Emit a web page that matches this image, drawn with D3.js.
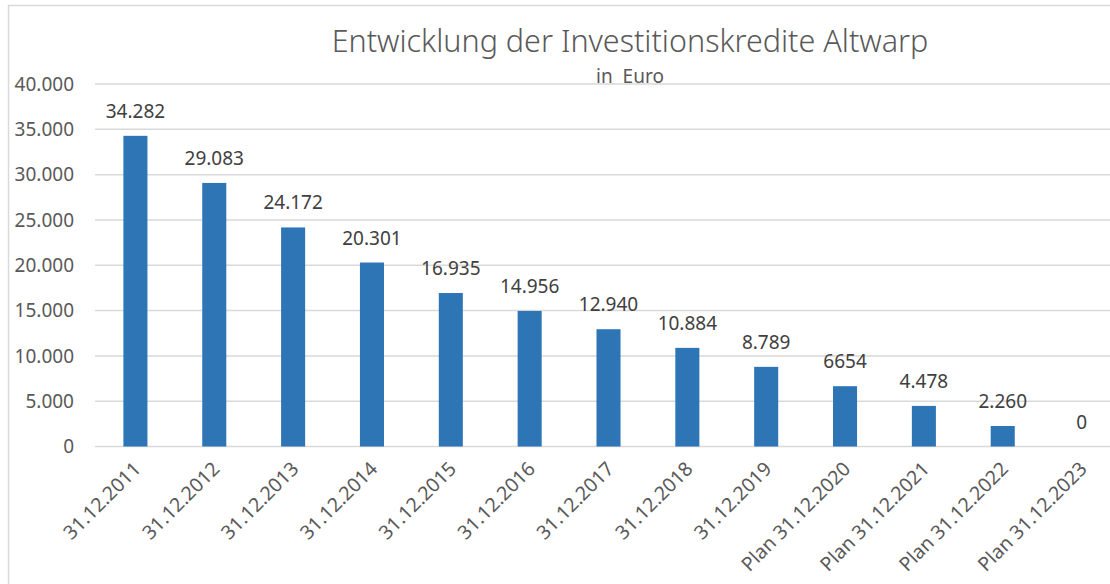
<!DOCTYPE html>
<html>
<head>
<meta charset="utf-8">
<script src="https://cdn.jsdelivr.net/npm/d3@7"></script>
<style>
  body { margin: 0; background: #fff; }
  svg text { font-family: "Noto Sans", "Open Sans", sans-serif; }
</style>
</head>
<body>
<svg id="chart" width="1110" height="584"></svg>
<script>
// data
var categories = ["31.12.2011", "31.12.2012", "31.12.2013", "31.12.2014", "31.12.2015", "31.12.2016",
    "31.12.2017", "31.12.2018", "31.12.2019", "Plan 31.12.2020", "Plan 31.12.2021", "Plan 31.12.2022", "Plan 31.12.2023"];
var values = [34282, 29083, 24172, 20301, 16935, 14956, 12940, 10884, 8789, 6654, 4478, 2260, 0];
var valueLabels = ["34.282", "29.083", "24.172", "20.301", "16.935", "14.956", "12.940", "10.884", "8.789", "6654", "4.478", "2.260", "0"];
var yTicks = [0, 5000, 10000, 15000, 20000, 25000, 30000, 35000, 40000];

var svg = d3.select("#chart");

var plotLeft = 96, plotRight = 1121, plotTop = 84, plotBottom = 446.5;

// chart area frame (only top and left visible in the picture)
svg.append("rect")
    .attr("x", 8.5).attr("y", 5.5)
    .attr("width", 1200).attr("height", 700)
    .attr("fill", "none")
    .attr("stroke", "#d9d9d9")
    .attr("stroke-width", 1.5);

var x = d3.scaleBand()
    .domain(categories)
    .range([plotLeft, plotRight])
    .paddingInner(0.695)
    .paddingOuter(0.3475);

var y = d3.scaleLinear()
    .domain([0, 40000])
    .range([plotBottom, plotTop]);

var fmt = function (d) {
    return d === 0 ? "0" : d3.format(",")(d).replace(/,/g, ".");
};

// gridlines
svg.append("g")
    .selectAll("line")
    .data(yTicks)
    .enter().append("line")
    .attr("x1", 95).attr("x2", 1110)
    .attr("y1", function (d) { return y(d); })
    .attr("y2", function (d) { return y(d); })
    .attr("stroke", "#d9d9d9")
    .attr("stroke-width", 1.5);

// y tick labels
svg.append("g")
    .selectAll("text")
    .data(yTicks)
    .enter().append("text")
    .attr("x", 74)
    .attr("y", function (d) { return y(d); })
    .attr("dy", "0.35em")
    .attr("text-anchor", "end")
    .attr("fill", "#595959")
    .style("font-size", "19px")
    .text(fmt);

// bars
svg.append("g")
    .selectAll("rect")
    .data(values)
    .enter().append("rect")
    .attr("x", function (d, i) { return x(categories[i]); })
    .attr("y", function (d) { return y(d); })
    .attr("width", x.bandwidth())
    .attr("height", function (d) { return y(0) - y(d); })
    .attr("fill", "#2e75b6");

// data labels
svg.append("g")
    .selectAll("text")
    .data(values)
    .enter().append("text")
    .attr("x", function (d, i) { return x(categories[i]) + x.bandwidth() / 2; })
    .attr("y", function (d) { return y(d) - 18; })
    .attr("text-anchor", "middle")
    .attr("fill", "#404040")
    .style("font-size", "19px")
    .text(function (d, i) { return valueLabels[i]; });

// x labels, rotated
svg.append("g")
    .selectAll("text")
    .data(categories)
    .enter().append("text")
    .attr("transform", function (d) {
        return "translate(" + (x(d) + x.bandwidth() / 2 - 3) + "," + (plotBottom + 14) + ") rotate(-45)";
    })
    .attr("dy", "0.7em")
    .attr("text-anchor", "end")
    .attr("fill", "#595959")
    .style("font-size", "19.5px")
    .text(function (d) { return d; });

// title
svg.append("text")
    .attr("x", 630).attr("y", 52)
    .attr("text-anchor", "middle")
    .attr("fill", "#595959")
    .style("font-size", "30.5px")
    .style("font-weight", "300")
    .text("Entwicklung der Investitionskredite Altwarp");

svg.append("text")
    .attr("x", 630).attr("y", 83)
    .attr("text-anchor", "middle")
    .attr("fill", "#595959")
    .style("font-size", "19px")
    .style("white-space", "pre")
    .attr("xml:space", "preserve")
    .text("in  Euro");
</script>
</body>
</html>
